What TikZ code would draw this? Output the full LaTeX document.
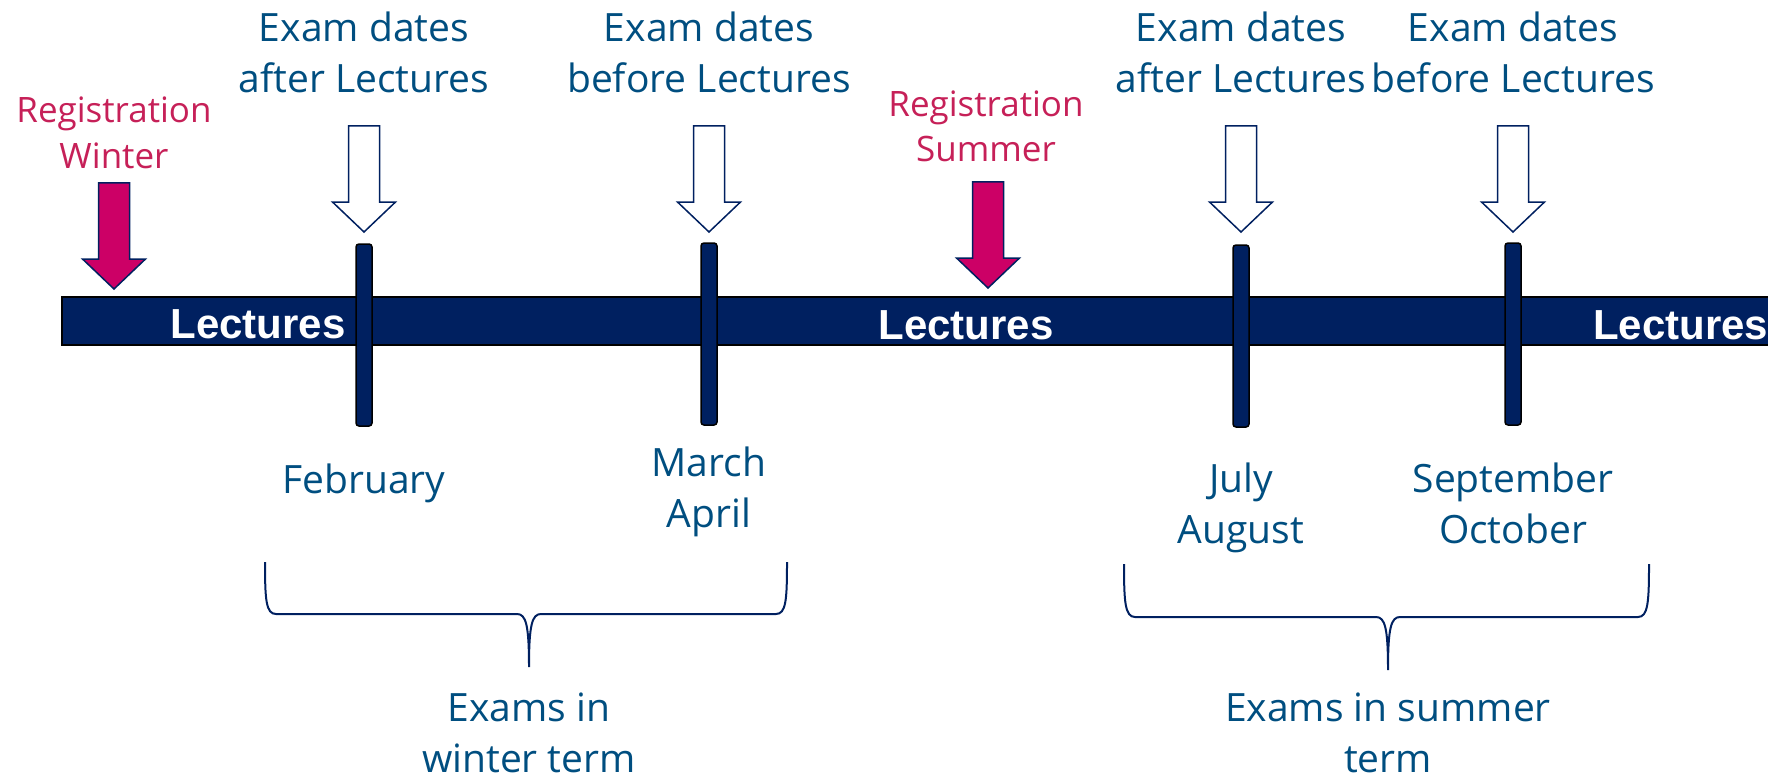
\documentclass[tikz,border=0pt]{standalone}
\usepackage{fontspec}
\setmainfont{Open Sans}
\newfontfamily\lecfont{Liberation Sans}
\definecolor{navy}{RGB}{0,32,96}
\definecolor{labelblue}{RGB}{0,78,128}
\definecolor{regred}{RGB}{204,0,102}
\definecolor{regtextred}{RGB}{198,32,88}
\tikzset{
  lecturebar/.style={draw=black,fill=navy,line width=1.5pt},
  lecturetext/.style={text=white,anchor=base,inner sep=0pt,font=\lecfont\bfseries\fontsize{42}{50}\selectfont},
  examtick/.style={draw=black,fill=navy,rounded corners=3pt,minimum width=16pt,minimum height=182pt,inner sep=0pt,line width=1.5pt},
  examarrow/.style={draw=navy,fill=white,line width=1.5pt},
  regarrow/.style={draw=navy,fill=regred,line width=1.5pt},
  datetext/.style={text=labelblue,align=center,anchor=base,inner sep=0pt,font=\fontsize{39}{51}\selectfont},
  regtext/.style={text=regtextred,align=center,anchor=base,inner sep=0pt,font=\fontsize{35}{45}\selectfont},
  termbrace/.style={draw=navy,line width=2pt},
  downarrow/.pic={\draw[pic actions] (-15.5,0) -- (-15.5,76) -- (-31.5,76) -- (0,106) -- (31.5,76) -- (15.5,76) -- (15.5,0) -- cycle;}
}
\begin{document}
\begin{tikzpicture}[x=1pt,y=-1pt]
\useasboundingbox (0,0) rectangle (1768,778);
\draw [lecturebar] (62,297) rectangle (1785,345);
\node [lecturetext] (lectwinter) at (258,338) {Lectures};
\node [lecturetext] (lectsummer) at (966,339) {Lectures};
\node [lecturetext,anchor=base west] (lectnext) at (1593,339) {Lectures};

\node [examtick] (tickfeb) at (364,335) {};
\node [examtick] (tickmar) at (709,334) {};
\node [examtick] (tickjul) at (1241,336) {};
\node [examtick] (ticksep) at (1513,334) {};

\pic [examarrow] at (tickfeb |- 0,126) {downarrow};
\pic [examarrow] at (tickmar |- 0,126) {downarrow};
\pic [examarrow] at (tickjul |- 0,126) {downarrow};
\pic [examarrow] at (ticksep |- 0,126) {downarrow};
\pic [regarrow] at (114,183) {downarrow};
\pic [regarrow] at (988,182) {downarrow};

\node [datetext] (examfeb) at (tickfeb |- 0,93) {Exam dates\\after Lectures};
\node [datetext] (exammar) at (tickmar |- 0,93) {Exam dates\\before Lectures};
\node [datetext] (examjul) at (tickjul |- 0,93) {Exam dates\\after Lectures};
\node [datetext] (examsep) at (ticksep |- 0,93) {Exam dates\\before Lectures};
\node [regtext] (regwinter) at (114,168) {Registration\\Winter};
\node [regtext] (regsummer) at (986,162) {Registration\\Summer};

\node [datetext] (feb) at (tickfeb |- 0,493) {February};
\node [datetext] (mar) at (tickmar |- 0,527) {March\\April};
\node [datetext] (jul) at (tickjul |- 0,543) {July\\August};
\node [datetext] (sep) at (ticksep |- 0,543) {September\\October};

\draw [termbrace] (265,562) .. controls (265,600) and (266,614) .. (276,614) -- (517,614) .. controls (526,614) and (529,625) .. (529,667) .. controls (529,625) and (532,614) .. (541,614) -- (776,614) .. controls (786,614) and (787,600) .. (787,562);
\draw [termbrace] (1124,564) .. controls (1124,602) and (1125,617) .. (1135,617) -- (1376,617) .. controls (1385,617) and (1388,628) .. (1388,670) .. controls (1388,628) and (1391,617) .. (1400,617) -- (1638,617) .. controls (1648,617) and (1649,602) .. (1649,564);
\node [datetext] (winterexams) at (529,772) {Exams in\\winter term};
\node [datetext] (summerexams) at (1388,772) {Exams in summer\\term};
\end{tikzpicture}
\end{document}
